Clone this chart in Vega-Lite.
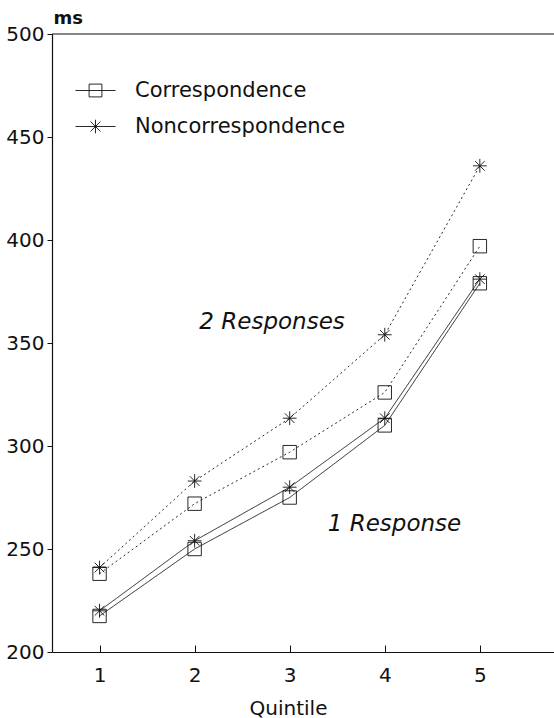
{
  "$schema": "https://vega.github.io/schema/vega-lite/v6.json",
  "autosize": {"type": "none"},
  "padding": {"left": 52, "top": 34, "right": 0, "bottom": 66},
  "width": 502,
  "height": 618,
  "background": "white",
  "config": {
    "view": {"stroke": null},
    "font": "DejaVu Sans",
    "axis": {"grid": false, "domainColor": "#111", "tickColor": "#111", "labelColor": "#111", "titleColor": "#111", "labelFont": "DejaVu Sans", "titleFont": "DejaVu Sans", "titleFontWeight": "normal"}
  },
  "datasets": {
    "rt": [
      {"quintile": 1, "ms": 241, "condition": "Noncorrespondence", "responses": "2"},
      {"quintile": 2, "ms": 283, "condition": "Noncorrespondence", "responses": "2"},
      {"quintile": 3, "ms": 313.5, "condition": "Noncorrespondence", "responses": "2"},
      {"quintile": 4, "ms": 354, "condition": "Noncorrespondence", "responses": "2"},
      {"quintile": 5, "ms": 436, "condition": "Noncorrespondence", "responses": "2"},
      {"quintile": 1, "ms": 238, "condition": "Correspondence", "responses": "2"},
      {"quintile": 2, "ms": 272, "condition": "Correspondence", "responses": "2"},
      {"quintile": 3, "ms": 297, "condition": "Correspondence", "responses": "2"},
      {"quintile": 4, "ms": 326, "condition": "Correspondence", "responses": "2"},
      {"quintile": 5, "ms": 397, "condition": "Correspondence", "responses": "2"},
      {"quintile": 1, "ms": 220, "condition": "Noncorrespondence", "responses": "1"},
      {"quintile": 2, "ms": 254, "condition": "Noncorrespondence", "responses": "1"},
      {"quintile": 3, "ms": 280, "condition": "Noncorrespondence", "responses": "1"},
      {"quintile": 4, "ms": 313.5, "condition": "Noncorrespondence", "responses": "1"},
      {"quintile": 5, "ms": 381, "condition": "Noncorrespondence", "responses": "1"},
      {"quintile": 1, "ms": 217.5, "condition": "Correspondence", "responses": "1"},
      {"quintile": 2, "ms": 250, "condition": "Correspondence", "responses": "1"},
      {"quintile": 3, "ms": 275, "condition": "Correspondence", "responses": "1"},
      {"quintile": 4, "ms": 310, "condition": "Correspondence", "responses": "1"},
      {"quintile": 5, "ms": 379, "condition": "Correspondence", "responses": "1"}
    ]
  },
  "layer": [
    {
      "data": {"name": "rt"},
      "mark": {"type": "line", "color": "#111", "strokeWidth": 0.9},
      "encoding": {
        "x": {
          "field": "quintile", "type": "quantitative",
          "scale": {"domain": [0.5, 5.78], "nice": false, "zero": false},
          "axis": {"values": [1, 2, 3, 4, 5], "format": "d", "title": "Quintile", "tickSize": -7, "labelPadding": 20, "labelFontSize": 20, "titleFontSize": 20, "titleX": 236, "titleY": 62, "titleAlign": "center", "titleBaseline": "alphabetic", "titleAnchor": null, "domainWidth": 1.2}
        },
        "y": {
          "field": "ms", "type": "quantitative",
          "scale": {"domain": [200, 500], "nice": false, "zero": false},
          "axis": {"values": [200, 250, 300, 350, 400, 450, 500], "title": "ms", "titleAngle": 0, "titleX": 1, "titleY": -11, "titleAlign": "left", "titleBaseline": "alphabetic", "titleFontSize": 18, "titleAnchor": null, "titleFontWeight": "bold", "tickSize": 5, "labelPadding": 3, "labelFontSize": 20, "domainWidth": 1.2}
        },
        "detail": {"field": "condition"},
        "strokeDash": {"field": "responses", "type": "nominal", "scale": {"domain": ["1", "2"], "range": [[1, 0], [2, 3]]}, "legend": null}
      }
    },
    {
      "data": {"values": [{"edge": "top"}]},
      "mark": {"type": "rule", "color": "#111", "strokeWidth": 1.2},
      "encoding": {"y": {"datum": 500}, "x": {"datum": 0.5}, "x2": {"datum": 5.78}}
    },
    {
      "data": {"name": "rt"},
      "transform": [{"filter": "datum.condition === 'Correspondence'"}],
      "mark": {"type": "point", "filled": false, "color": "#111", "strokeWidth": 0.9, "opacity": 1, "shape": "square", "size": 180},
      "encoding": {"x": {"field": "quintile", "type": "quantitative"}, "y": {"field": "ms", "type": "quantitative"}}
    },
    {
      "data": {"name": "rt"},
      "transform": [{"filter": "datum.condition === 'Noncorrespondence'"}],
      "mark": {"type": "point", "filled": false, "color": "#111", "strokeWidth": 0.9, "opacity": 1, "shape": "M-1,0L1,0M0,-1L0,1M-0.7,-0.7L0.7,0.7M-0.7,0.7L0.7,-0.7", "size": 190},
      "encoding": {"x": {"field": "quintile", "type": "quantitative"}, "y": {"field": "ms", "type": "quantitative"}}
    },
    {
      "data": {"name": "rt"},
      "mark": {"type": "point", "filled": false, "color": "#111", "strokeWidth": 0.9, "opacity": 0},
      "encoding": {
        "x": {"field": "quintile", "type": "quantitative"},
        "y": {"field": "ms", "type": "quantitative"},
        "shape": {
          "field": "condition", "type": "nominal",
          "scale": {"domain": ["Correspondence", "Noncorrespondence"], "range": ["M-1,0L1,0M-0.32,-0.32L0.32,-0.32L0.32,0.32L-0.32,0.32Z", "M-1,0L1,0M0,-0.34L0,0.34M-0.25,-0.25L0.25,0.25M-0.25,0.25L0.25,-0.25"]},
          "legend": {
            "title": null, "orient": "none", "legendX": 23, "legendY": 36, "padding": 0,
            "symbolSize": 1600, "symbolStrokeColor": "#111", "symbolFillColor": "transparent", "symbolStrokeWidth": 0.9, "symbolOpacity": 1,
            "labelFontSize": 21, "labelFont": "DejaVu Sans", "labelColor": "#111", "labelOffset": 19, "rowPadding": 5, "labelLimit": 400
          }
        },
        "size": {"value": 180}
      }
    },
    {
      "data": {"values": [{"label": "2 Responses"}]},
      "mark": {"type": "text", "font": "DejaVu Sans", "fontStyle": "italic", "fontSize": 23, "align": "left", "baseline": "middle", "color": "#111"},
      "encoding": {"text": {"field": "label"}, "x": {"datum": 2.05}, "y": {"datum": 360}}
    },
    {
      "data": {"values": [{"label": "1 Response"}]},
      "mark": {"type": "text", "font": "DejaVu Sans", "fontStyle": "italic", "fontSize": 23, "align": "left", "baseline": "middle", "color": "#111"},
      "encoding": {"text": {"field": "label"}, "x": {"datum": 3.4}, "y": {"datum": 262}}
    }
  ]
}
